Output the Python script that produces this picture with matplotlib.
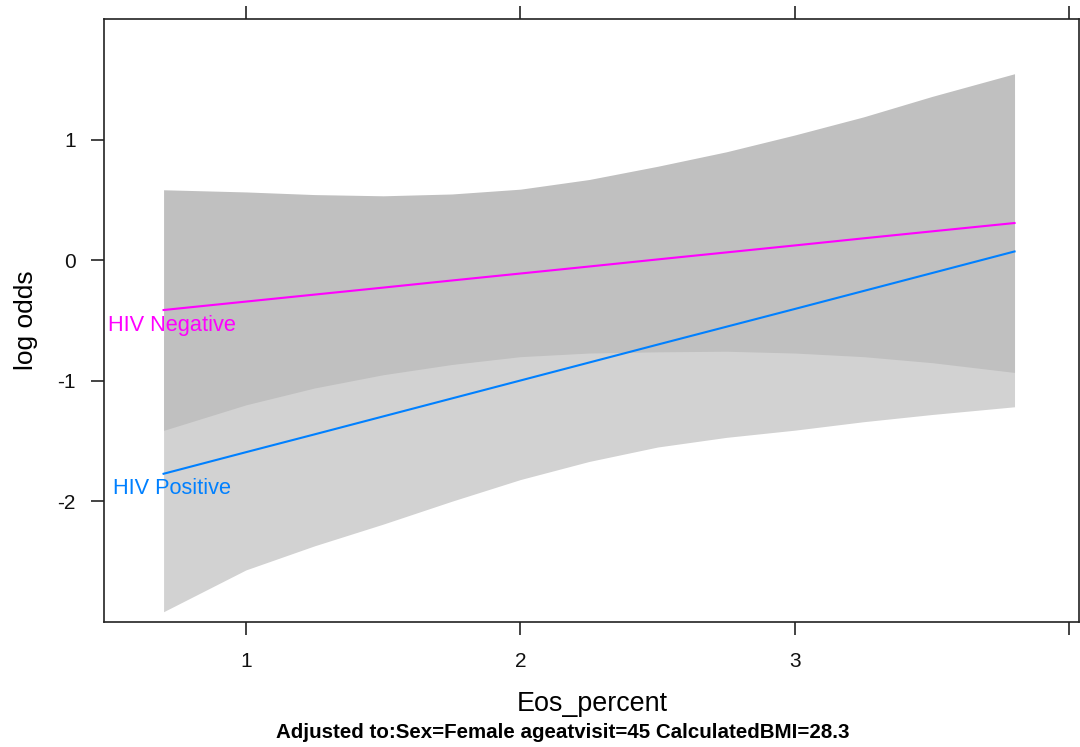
import matplotlib
matplotlib.use("Agg")
import matplotlib.pyplot as plt

plt.rcParams['font.family'] = ['Liberation Sans', 'DejaVu Sans']

# Data
eos = [0.7, 1.0, 1.25, 1.5, 1.75, 2.0, 2.25, 2.5, 2.75, 3.0, 3.25, 3.5, 3.8]
neg_fit = [-0.413, -0.343, -0.285, -0.227, -0.168, -0.110, -0.052, 0.007,
           0.065, 0.123, 0.182, 0.240, 0.309]
neg_upper = [0.585, 0.567, 0.545, 0.535, 0.550, 0.590, 0.670, 0.780,
             0.900, 1.040, 1.190, 1.360, 1.548]
neg_lower = [-1.412, -1.200, -1.060, -0.950, -0.865, -0.800, -0.770, -0.760,
             -0.755, -0.770, -0.800, -0.850, -0.931]
pos_fit = [-1.772, -1.593, -1.445, -1.296, -1.147, -0.998, -0.849, -0.700,
           -0.552, -0.404, -0.255, -0.106, 0.073]
pos_upper = [-0.627, -0.616, -0.520, -0.400, -0.300, -0.180, -0.020, 0.150,
             0.370, 0.600, 0.830, 1.070, 1.370]
pos_lower = [-2.917, -2.570, -2.370, -2.190, -2.000, -1.820, -1.670, -1.550,
             -1.470, -1.410, -1.340, -1.280, -1.216]

group_labels = ["HIV Negative", "HIV Positive"]
x_ticks = [1, 2, 3, 4]
x_ticklabels = ["1", "2", "3", ""]
y_ticks = [-2, -1, 0, 1]
y_ticklabels = ["-2", "-1", "0", "1"]

fig = plt.figure(figsize=(10.8, 7.47), dpi=100)
ax = fig.add_axes([0.0963, 0.1677, 0.9028, 0.8065])

ax.fill_between(eos, pos_lower, pos_upper, color="#D2D2D2", lw=0, zorder=1)
ax.fill_between(eos, neg_lower, neg_upper, color="#C0C0C0", lw=0, zorder=2)
ax.plot(eos, neg_fit, color="#FF00FF", lw=1.5, zorder=3)
ax.plot(eos, pos_fit, color="#0080FF", lw=1.5, zorder=3)

ax.text(0.498, -0.544, group_labels[0], color="#FF00FF", fontsize=15.7,
        ha="left", va="center", zorder=4)
ax.text(0.516, -1.896, group_labels[1], color="#0080FF", fontsize=15.7,
        ha="left", va="center", zorder=4)

ax.set_xlim(0.483, 4.035)
ax.set_ylim(-3.0, 2.0)

ax.set_xticks(x_ticks)
ax.set_xticklabels(x_ticklabels)
ax.set_yticks(y_ticks)
ax.set_yticklabels(y_ticklabels)
ax.tick_params(axis="x", which="both", direction="out", length=9.5, width=1.1,
               top=True, bottom=True, labelsize=15, pad=12, colors="#111111")
ax.tick_params(axis="y", which="both", direction="out", length=9.5, width=1.1,
               left=True, right=False, labelsize=15, pad=11, colors="#111111")
for s in ax.spines.values():
    s.set_linewidth(1.2)
    s.set_color("#222222")

ax.set_ylabel("log odds", fontsize=19, labelpad=14)
fig.text(0.548, 1 - 704 / 747, "Eos_percent", fontsize=19.4, ha="center", va="center")
fig.text(0.521, 1 - 732 / 747, "Adjusted to:Sex=Female ageatvisit=45 CalculatedBMI=28.3",
         fontsize=14.8, fontweight="bold", ha="center", va="center")

fig.savefig("out.png", dpi=100)
